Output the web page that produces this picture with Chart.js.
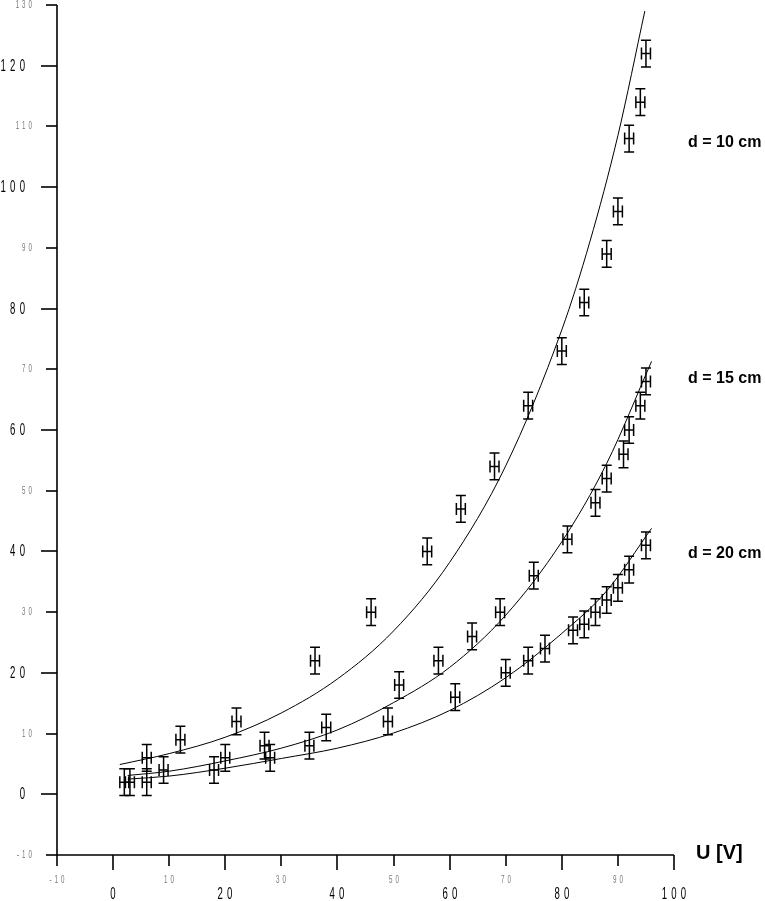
<!DOCTYPE html>
<html>
<head>
<meta charset="utf-8">
<title>U [V] - d = 10 / 15 / 20 cm</title>
<script src="https://cdn.jsdelivr.net/npm/chart.js@4.4.1/dist/chart.umd.min.js"></script>
<style>
    html, body { margin: 0; padding: 0; background: #fff; }
    #wrap { width: 765px; height: 901px; }
</style>
</head>
<body>
<div id="wrap"><canvas id="chart" width="765" height="901"></canvas></div>
<script>
// Measured points (U in V, value on y axis)
const d10U = [2, 6, 12, 22, 36, 46, 56, 62, 68, 74, 80, 84, 88, 90, 92, 94, 95];
const d10Y = [2, 6, 9, 12, 22, 30, 40, 47, 54, 64, 73, 81, 89, 96, 108, 114, 122];

const d15U = [3, 9, 20, 27, 38, 51, 58, 64, 69, 75, 81, 86, 88, 91, 92, 94, 95];
const d15Y = [2, 4, 6, 8, 11, 18, 22, 26, 30, 36, 42, 48, 52, 56, 60, 64, 68];

const d20U = [6, 18, 28, 35, 49, 61, 70, 74, 77, 82, 84, 86, 88, 90, 92, 95];
const d20Y = [2, 4, 6, 8, 12, 16, 20, 22, 24, 27, 28, 30, 32, 34, 37, 41];

// Error bar half widths
const errU = 0.8;
const errY = 2.2;

// Fitted curves
const fit10U = [1.2, 10, 20, 30, 40, 50, 60, 70, 80, 85, 90, 94.8];
const fit10Y = [4.9, 6.7, 9.4, 13.4, 19.0, 26.9, 38.2, 54.1, 76.5, 91, 108.5, 129];

const fit15U = [2.6, 10, 20, 30, 40, 50, 60, 70, 80, 88, 96];
const fit15Y = [3.1, 3.8, 5.5, 7.6, 10.6, 15.1, 20.9, 29.5, 41.6, 54.5, 71.3];

const fit20U = [2.6, 10, 20, 30, 40, 50, 60, 70, 80, 88, 96];
const fit20Y = [2.5, 3.0, 4.3, 5.9, 7.6, 10.1, 13.8, 19.2, 26.5, 33.5, 43.8];

// Axis ticks and curve labels
const xTicks = [-10, 0, 10, 20, 30, 40, 50, 60, 70, 80, 90, 100];
const yTicks = [-10, 0, 10, 20, 30, 40, 50, 60, 70, 80, 90, 100, 110, 120, 130];
const curveLabels = ['d = 10 cm', 'd = 15 cm', 'd = 20 cm'];
const curveLabelY = [107.3, 68.5, 39.6];
const xTitle = 'U [V]';

const toXY = (xs, ys) => xs.map((x, i) => ({ x: x, y: ys[i] }));

const SANS = "'Liberation Sans', Arial, sans-serif";

function pointSet(label, xs, ys) {
    return {
        type: 'scatter',
        label: label,
        data: toXY(xs, ys),
        pointRadius: 0,
        showLine: false,
        errorBars: true
    };
}

function fitSet(label, xs, ys) {
    return {
        type: 'line',
        label: label,
        data: toXY(xs, ys),
        borderColor: '#000',
        borderWidth: 1,
        pointRadius: 0,
        fill: false,
        cubicInterpolationMode: 'monotone'
    };
}

// Narrow, spaced digits like the original plot
function spacedText(ctx, text, x, y, align, spacing, sx) {
    const chars = text.split('');
    const widths = chars.map(c => ctx.measureText(c).width * sx);
    const total = widths.reduce((a, b) => a + b, 0) + spacing * (chars.length - 1);
    let start = x;
    if (align === 'right') start = x - total;
    if (align === 'center') start = x - total / 2;
    ctx.textAlign = 'left';
    chars.forEach((c, i) => {
        ctx.save();
        ctx.translate(start, y);
        ctx.scale(sx, 1);
        ctx.fillText(c, 0, 0);
        ctx.restore();
        start += widths[i] + spacing;
    });
}

// Axes, ticks, tick labels, curve labels
const axesPlugin = {
    id: 'axesPlugin',
    afterDraw(chart) {
        const ctx = chart.ctx;
        const xs = chart.scales.x;
        const ys = chart.scales.y;
        const area = chart.chartArea;
        const ax = Math.round(xs.getPixelForValue(-10));
        const ay = Math.round(ys.getPixelForValue(-10));

        ctx.save();
        ctx.strokeStyle = '#000';
        ctx.lineWidth = 1.6;

        // axis lines
        ctx.beginPath();
        ctx.moveTo(ax, area.top);
        ctx.lineTo(ax, ay);
        ctx.lineTo(area.right, ay);
        ctx.stroke();

        // y ticks
        yTicks.forEach(v => {
            const major = v % 20 === 0;
            const py = Math.round(ys.getPixelForValue(v));
            ctx.beginPath();
            ctx.moveTo(ax, py);
            ctx.lineTo(ax - (major ? 16 : 11), py);
            ctx.stroke();
            ctx.textBaseline = 'middle';
            if (major) {
                ctx.fillStyle = '#000';
                ctx.font = '16px ' + SANS;
                spacedText(ctx, String(v), 25, py + 1, 'right', 4.2, 0.6);
            } else {
                ctx.fillStyle = '#777';
                ctx.font = '10px ' + SANS;
                spacedText(ctx, String(v), 32, py, 'right', 3, 0.62);
            }
        });

        // x ticks
        xTicks.forEach(v => {
            const major = v % 20 === 0;
            const px = Math.round(xs.getPixelForValue(v));
            ctx.beginPath();
            ctx.moveTo(px, ay);
            ctx.lineTo(px, ay + (major ? 15 : 11));
            ctx.stroke();
            ctx.textBaseline = 'alphabetic';
            if (major) {
                ctx.fillStyle = '#000';
                ctx.font = '16px ' + SANS;
                spacedText(ctx, String(v), px, 899, 'center', 4.2, 0.6);
            } else {
                ctx.fillStyle = '#777';
                ctx.font = '10px ' + SANS;
                spacedText(ctx, String(v), px, 883, 'center', 3, 0.62);
            }
        });

        // curve labels
        ctx.fillStyle = '#000';
        ctx.font = 'bold 16px ' + SANS;
        ctx.textAlign = 'left';
        ctx.textBaseline = 'middle';
        curveLabels.forEach((t, i) => {
            ctx.fillText(t, area.right + 14, ys.getPixelForValue(curveLabelY[i]));
        });

        // x axis title
        ctx.font = 'bold 20px ' + SANS;
        ctx.textBaseline = 'alphabetic';
        ctx.fillText(xTitle, area.right + 22, ay + 4);
        ctx.restore();
    }
};

// Error bars for the measured points
const errorBarPlugin = {
    id: 'errorBarPlugin',
    afterDatasetsDraw(chart) {
        const ctx = chart.ctx;
        const xs = chart.scales.x;
        const ys = chart.scales.y;
        ctx.save();
        ctx.strokeStyle = '#000';
        ctx.lineWidth = 1.5;
        chart.data.datasets.forEach(ds => {
            if (!ds.errorBars) return;
            ds.data.forEach(p => {
                const px = xs.getPixelForValue(p.x);
                const py = ys.getPixelForValue(p.y);
                const top = ys.getPixelForValue(p.y + errY);
                const bot = ys.getPixelForValue(p.y - errY);
                const left = xs.getPixelForValue(p.x - errU);
                const right = xs.getPixelForValue(p.x + errU);
                ctx.beginPath();
                // vertical bar with caps
                ctx.moveTo(px, top); ctx.lineTo(px, bot);
                ctx.moveTo(px - 5, top); ctx.lineTo(px + 5, top);
                ctx.moveTo(px - 5, bot); ctx.lineTo(px + 5, bot);
                // horizontal bar with caps
                ctx.moveTo(left, py); ctx.lineTo(right, py);
                ctx.moveTo(left, py - 6); ctx.lineTo(left, py + 6);
                ctx.moveTo(right, py - 6); ctx.lineTo(right, py + 6);
                ctx.stroke();
            });
        });
        ctx.restore();
    }
};

new Chart(document.getElementById('chart').getContext('2d'), {
    data: {
        datasets: [
            pointSet('d = 10 cm', d10U, d10Y),
            pointSet('d = 15 cm', d15U, d15Y),
            pointSet('d = 20 cm', d20U, d20Y),
            fitSet('fit d = 10 cm', fit10U, fit10Y),
            fitSet('fit d = 15 cm', fit15U, fit15Y),
            fitSet('fit d = 20 cm', fit20U, fit20Y)
        ]
    },
    options: {
        responsive: false,
        animation: false,
        layout: { padding: { left: 57, right: 91, top: 5, bottom: 46 } },
        plugins: {
            legend: { display: false },
            tooltip: { enabled: false }
        },
        scales: {
            x: { type: 'linear', min: -10, max: 100, display: false },
            y: { type: 'linear', min: -10, max: 130, display: false }
        }
    },
    plugins: [axesPlugin, errorBarPlugin]
});
</script>
</body>
</html>
